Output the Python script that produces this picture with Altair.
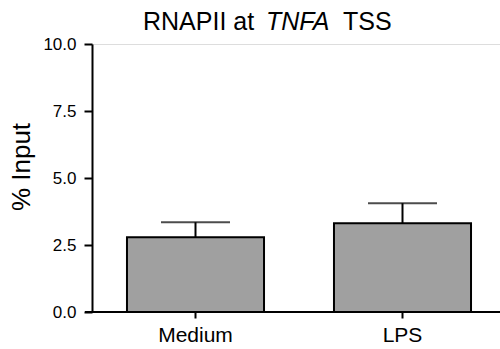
import altair as alt
import pandas as pd

categories = ["Medium", "LPS"]
means = [2.79, 3.31]
errors = [0.56, 0.75]
y_ticks = [0, 2.5, 5, 7.5, 10]

df = pd.DataFrame({
    "cond": categories,
    "mean": means,
    "upper": [m + e for m, e in zip(means, errors)],
})

W, H = 408, 268
FONT = "Liberation Sans"

xscale = alt.Scale(domain=categories, range=[0, 414], paddingInner=0.338, paddingOuter=0.169)
yscale = alt.Scale(domain=[0, 10], nice=False)

x_enc = alt.X("cond:N", scale=xscale, sort=categories,
              axis=alt.Axis(title=None, domain=False, ticks=True, tickSize=6, tickWidth=2,
                            tickColor="black", labelAngle=0, labelFont=FONT, labelFontSize=21,
                            labelColor="black", labelPadding=6, grid=False))
y_enc = alt.Y("mean:Q", scale=yscale,
              axis=alt.Axis(title=None, values=y_ticks, format=".1f", domain=True,
                            domainColor="black", domainWidth=2, ticks=True, tickSize=8,
                            tickWidth=2, tickColor="black", labelFont=FONT, labelFontSize=17,
                            labelColor="black", labelPadding=8, grid=False))

bars = alt.Chart(df).mark_bar(color="#a0a0a0", stroke="black", strokeWidth=2).encode(
    x=x_enc, y=y_enc
)

err = alt.Chart(df).mark_rule(color="black", strokeWidth=2).encode(
    x=alt.X("cond:N", scale=xscale, sort=categories),
    y=alt.Y("mean:Q", scale=yscale),
    y2="upper:Q",
)
caps = alt.Chart(df).mark_tick(color="black", thickness=2, size=69).encode(
    x=alt.X("cond:N", scale=xscale, sort=categories),
    y=alt.Y("upper:Q", scale=yscale),
)

baseline = alt.Chart(pd.DataFrame({"v": [0]})).mark_rule(color="black", strokeWidth=2).encode(
    y=alt.Y("v:Q", scale=yscale),
    x=alt.value(-7),
    x2=alt.value(W),
)

title_parts = [
    ("RNAPII at", "normal", 51),
    ("TNFA", "italic", 174),
    ("TSS", "normal", 251),
]
title_layers = [
    alt.Chart(pd.DataFrame({"t": [txt]})).mark_text(
        font=FONT, fontSize=25, fontStyle=style, align="left", baseline="alphabetic",
        color="black"
    ).encode(text="t:N", x=alt.value(xp), y=alt.value(-14))
    for txt, style, xp in title_parts
]

ytitle = alt.Chart(pd.DataFrame({"t": ["% Input"]})).mark_text(
    font=FONT, fontSize=26, angle=270, align="center", baseline="middle", color="black"
).encode(text="t:N", x=alt.value(-70), y=alt.value(123))

chart = alt.layer(bars, err, caps, baseline, ytitle, *title_layers).properties(
    width=W, height=H,
    autosize=alt.AutoSizeParams(type="none"),
    padding={"left": 92, "top": 44, "right": 0, "bottom": 37},
).configure_view(stroke=None).configure(background="white")

chart.save("out.html", embed_options={"renderer": "svg", "actions": False})
